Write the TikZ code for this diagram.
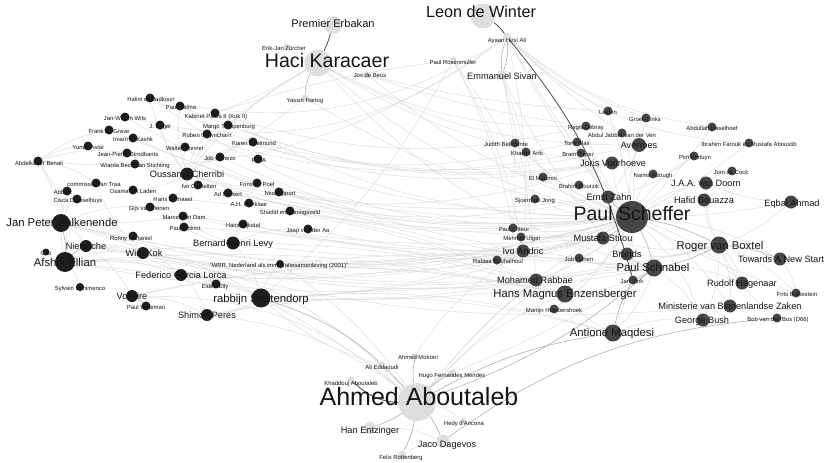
\documentclass[tikz,border=0pt]{standalone}
\usepackage{fontspec}
\setmainfont{Liberation Sans}
\usetikzlibrary{backgrounds}
\definecolor{ndark}{HTML}{1E1E1E}
\definecolor{nmid}{HTML}{454545}
\definecolor{nlight}{HTML}{DEDEDE}
\definecolor{txt}{HTML}{151515}
\definecolor{elight}{HTML}{D9D9D9}
\definecolor{emid}{HTML}{B0B0B0}
\definecolor{edark}{HTML}{4A4A4A}
\tikzset{
  dk/.style={circle, fill=ndark, inner sep=0pt, minimum size=#1}, dk/.default=9,
  dm/.style={circle, fill=nmid, inner sep=0pt, minimum size=#1}, dm/.default=9,
  lt/.style={circle, fill=nlight, inner sep=0pt, minimum size=#1}, lt/.default=7,
  lab/.style={text=txt, inner sep=0pt, text height=0.72em, text depth=0pt},
  tS/.style={lab, font=\fontsize{5.9}{6}\selectfont},
  tM/.style={lab, font=\fontsize{9.2}{10}\selectfont},
  tL/.style={lab, font=\fontsize{11.3}{12}\selectfont},
  ed/.style={draw=elight, line width=0.45pt, opacity=0.9},
  em/.style={draw=emid, line width=0.6pt},
  ek/.style={draw=edark, line width=0.8pt},
}
\begin{document}
\begin{tikzpicture}[x=1pt,y=-1pt]
\useasboundingbox (0,0) rectangle (827,463);
% ---------- light nodes
\node[lt=25] (lw) at (483,16) {};
\node[lt=18] (pe) at (333,25) {};
\node[lt=27] (hk) at (318,63) {};
\node[lt=38] (aa) at (417,402) {};
\node[lt] (ez) at (287,47) {};
\node[lt] (jb) at (367,75) {};
\node[lt] (yh) at (305,98) {};
\node[lt] (pr) at (453,60) {};
\node[lt=8] (ah) at (507,37) {};
\node[lt=10] (es) at (502,75) {};
\node[lt] (am) at (415,356) {};
\node[lt] (ae) at (382,365) {};
\node[lt=8] (hf) at (452,373) {};
\node[lt] (ka) at (351,380) {};
\node[lt=12] (he) at (370,428) {};
\node[lt=6] (hd) at (463,421) {};
\node[lt=13] (jd) at (443,441) {};
\node[lt=8] (fr) at (402,455) {};
% ---------- dark nodes, left
\node[dk] (hm) at (150,98) {};
\node[dk] (pk) at (180,106) {};
\node[dk] (kp) at (215,113) {};
\node[dk] (jw) at (125,117) {};
\node[dk] (je) at (160,125) {};
\node[dk] (mt) at (228,125) {};
\node[dk] (fg) at (109,130) {};
\node[dk] (rg) at (207,134) {};
\node[dk] (ik) at (133,138) {};
\node[dk] (kad) at (253,142) {};
\node[dk] (ya) at (88,146) {};
\node[dk] (wd) at (185,147) {};
\node[dk] (js) at (127,153) {};
\node[dk] (jc) at (220,157) {};
\node[dk] (pv) at (258,159) {};
\node[dk] (wb) at (135,164) {};
\node[dk] (ab) at (38,161) {};
\node[dk=13] (oc) at (187,174) {};
\node[dk] (io) at (198,185) {};
\node[dk] (fp) at (257,183) {};
\node[dk] (ct) at (96,183) {};
\node[dk] (am2) at (67,191) {};
\node[dk] (ol) at (133,190) {};
\node[dk] (amk) at (228,193) {};
\node[dk] (nr) at (279,192) {};
\node[dk] (hdm) at (173,198) {};
\node[dk] (ahk) at (249,203) {};
\node[dk] (cd) at (77,199) {};
\node[dk] (gd) at (150,207) {};
\node[dk] (sk) at (290,211) {};
\node[dk] (md) at (183,216) {};
\node[dk] (po) at (184,227) {};
\node[dk] (hdk) at (243,224) {};
\node[dk] (jva) at (308,229) {};
\node[dk=13] (bhl) at (233,243) {};
\node[dk=18] (jpb) at (61,223) {};
\node[dk] (rn) at (133,236) {};
\node[dk=12] (nz) at (86,246) {};
\node[dk=12] (wk) at (143,253) {};
\node[dk=7] (cdo) at (46,252) {};
\node[dk=20] (ael) at (65,262) {};
\node[dk=12] (fgl) at (181,275) {};
\node[dk=8] (wrr) at (280,264) {};
\node[dk] (ee) at (216,284) {};
\node[dk=8] (se) at (80,287) {};
\node[dk=19] (rs) at (261,298) {};
\node[dk=12] (vo) at (132,296) {};
\node[dk] (pw) at (146,306) {};
\node[dk=12] (sp) at (207,315) {};
% ---------- dark nodes, right
\node[dm] (le) at (608,111) {};
\node[dm] (gl) at (646,118) {};
\node[dm] (rd) at (586,126) {};
\node[dm] (ajv) at (622,133) {};
\node[dm] (ahs) at (712,127) {};
\node[dm=14] (av) at (639,145) {};
\node[dm] (ifa) at (749,143) {};
\node[dm] (jbf) at (515,143) {};
\node[dm] (tb) at (577,142) {};
\node[dm] (kar) at (526,152) {};
\node[dm] (bp) at (581,153) {};
\node[dm] (pf) at (694,156) {};
\node[dm=13] (jv) at (612,163) {};
\node[dm] (jdc) at (732,171) {};
\node[dm] (na) at (653,174) {};
\node[dm] (em) at (543,177) {};
\node[dm=13] (jaa) at (706,183) {};
\node[dm] (bb) at (579,185) {};
\node[dm=13] (ezh) at (608,197) {};
\node[dm] (sj) at (535,199) {};
\node[dm=13] (hb) at (704,200) {};
\node[dm=13] (eq) at (791,202) {};
\node[dm=32] (ps) at (632,217) {};
\node[dm] (pc) at (513,228) {};
\node[dm] (mu) at (521,237) {};
\node[dm=13] (ms) at (603,238) {};
\node[dm=13] (ia) at (523,251) {};
\node[dm] (rb) at (497,260) {};
\node[dm] (jco) at (579,258) {};
\node[dm=13] (br) at (627,254) {};
\node[dm=17] (rvb) at (719,245) {};
\node[dm=13] (tns) at (780,259) {};
\node[dm=17] (psn) at (654,268) {};
\node[dm] (jvk) at (633,280) {};
\node[dm=13] (mr) at (536,280) {};
\node[dm=13] (rh) at (742,283) {};
\node[dm=17] (hme) at (565,294) {};
\node[dm] (mh) at (554,309) {};
\node[dm] (fb) at (796,293) {};
\node[dm=13] (mbz) at (730,306) {};
\node[dm=13] (gb) at (703,320) {};
\node[dm] (bvb) at (777,318) {};
\node[dm=17] (am3) at (613,333) {};
% ---------- edges
\begin{pgfonlayer}{background}
\fill[white] (0,0) rectangle (827,463);
\foreach \a/\b/\c in {hk/ez/0, hk/jb/0, hk/kp/5, hk/mt/-5, hk/oc/-10, hk/ps/-14, hk/psn/-16, hk/rd/-14, hk/jv/-12, hk/av/-14,
 ah/hm/22, ah/ab/20, ah/jw/25, ah/ahs/-15, ah/gl/-10, ah/av/-5, ah/ifa/-20, ah/ps/-5, ah/ia/8, ah/ezh/-5, ah/le/-8,
 es/mr/5, es/pc/8, es/sj/5, es/ms/-5,
 pr/ia/10, pr/kp/-5, pr/sj/5, pr/pc/8, pr/rs/10,
 jb/ps/-10, jb/le/-5, jb/rd/-5, yh/oc/5, yh/ps/-10,
 oc/wd/0, oc/jc/0, oc/hdm/0, oc/io/0, oc/ol/0, oc/wb/0, oc/js/0, oc/kad/0, oc/rg/0, oc/mt/0, oc/ps/-14, oc/jv/-16, oc/ezh/-14, oc/hm/0, oc/pk/0, oc/je/0,
 ab/js/0, ab/ct/0, ab/ael/20, ab/jpb/10, ab/ya/0, ab/fg/0,
 jpb/nz/0, jpb/wk/0, jpb/cd/0, jpb/rn/0, jpb/ps/-14, jpb/rvb/-16, jpb/gd/0, jpb/md/-5, jpb/ms/-12, jpb/ia/-12,
 ael/cdo/0, ael/se/0, ael/fgl/0, ael/wk/0, ael/aa/25, ael/rs/12, ael/ps/-12, ael/mr/-8, ael/hme/8, ael/am2/0,
 nz/wk/0, nz/fgl/0, nz/vo/0, nz/bhl/-5, nz/ps/-12, nz/ms/-12,
 wk/fgl/0, wk/rs/0, wk/mbz/-10, wk/rvb/-12, wk/psn/-8, wk/ct/0,
 fgl/rs/0, fgl/ee/0, fgl/sp/0, fgl/hme/8, fgl/ms/-8,
 vo/sp/0, vo/aa/20, vo/hme/12, vo/psn/8,
 rs/sp/0, rs/ee/0, rs/wrr/0, rs/ps/-10, rs/am3/10, rs/psn/-6, rs/mr/-6, rs/ia/-8,
 bhl/hdk/0, bhl/po/0, bhl/md/0, bhl/rs/0, bhl/ms/-8, bhl/hme/8, bhl/jva/0,
 sp/hme/8, sp/aa/15, sp/am3/12,
 hm/ps/-20, hm/jv/-18, jw/ps/-18, fg/ezh/-15, ik/ps/-14, pk/av/-18, kp/ps/-14, kp/rd/-15, mt/jv/-14, rg/tb/-14, je/bp/-14,
 pv/ps/-8, kad/jv/-10, jc/jco/-8, amk/ps/-8, nr/ps/-6, sk/mr/6, jva/ia/-6, sk/ps/-8, fp/psn/-8, io/ms/-6,
 wrr/ps/-8, wrr/psn/6, wrr/aa/10, hdm/hme/8, po/mr/5, gd/ms/-8, md/ia/-6, hdk/jco/-6,
 ps/br/0, ps/jv/0, ps/na/0, ps/jaa/0, ps/hb/0, ps/bb/0, ps/em/0, ps/sj/0, ps/jco/0, ps/mr/0, ps/hme/0, ps/am3/0, ps/av/0, ps/tb/0, ps/rd/0, ps/pf/0, ps/ia/0, ps/mbz/0, ps/rh/0, ps/gb/0, ps/kar/0, ps/pc/0, ps/mu/0, ps/jbf/0, ps/eq/-5, ps/tns/0, ps/fb/-5, ps/rb/0, ps/mh/0,
 rvb/rh/0, rvb/mbz/0, rvb/hb/0, rvb/jaa/0, rvb/eq/-10, rvb/fb/0, rvb/gb/0, rvb/ms/0, rvb/br/0,
 jaa/jdc/0, jaa/eq/-10, tns/fb/0, pf/ezh/0, gl/ezh/0, ahs/ps/5, ifa/ps/5, ajv/ps/0, le/ps/5,
 psn/br/0, psn/am3/0, psn/hme/0, psn/ms/0, psn/jco/0, psn/gb/0, psn/rh/0,
 am3/hme/0, am3/gb/0, bvb/rvb/0,
 aa/ae/0, aa/hd/0, aa/ms/5, aa/mr/5, aa/ps/10, aa/rs/-5, aa/hme/0,
 he/jd/0, fr/jd/0, hf/psn/-5, am/ia/0, ae/rs/0}
  {\pgfmathsetmacro\bb{(\c==0)*12+\c}
   \draw[ed] (\a) to[bend left=\bb] (\b);}
\foreach \a/\b/\c in {hk/yh/-15, ah/es/-12, ah/es/12, vo/pw/8, jpb/ael/8, ael/nz/8, rs/aa/15, ps/ezh/8, ps/ms/8, ps/psn/8, ps/rvb/8, rvb/tns/8, rvb/psn/8, psn/jvk/8, am3/jvk/8, aa/am/8, aa/hf/8, aa/he/8, aa/jd/8, aa/fr/8, aa/psn/-10, am3/aa/-10, bvb/jd/-15}
  \draw[em] (\a) to[bend left=\c] (\b);
\foreach \a/\b/\c in {lw/ah/10, ah/jvk/12, aa/ka/20, hk/pe/-5}
  \draw[ek] (\a) to[bend left=\c] (\b);
\end{pgfonlayer}
% ---------- labels
\node[lab, font=\fontsize{16.2}{17}\selectfont] (lw-t) at (481,14) {Leon de Winter};
\node[lab, font=\fontsize{11.1}{12}\selectfont] (pe-t) at (333,24) {Premier Erbakan};
\node[lab, font=\fontsize{19.6}{20}\selectfont] (hk-t) at (327,64) {Haci Karacaer};
\node[lab, font=\fontsize{25}{26}\selectfont] (aa-t) at (419,402) {Ahmed Aboutaleb};
\node[lab, font=\fontsize{19.5}{20}\selectfont] (ps-t) at (632,217) {Paul Scheffer};
\node[tS] (ez-t) at (284,47) {Erik-Jan Zürcher};
\node[tS] (jb-t) at (370,74) {Jos de Beus};
\node[tS] (yh-t) at (305,99) {Yassin Hartog};
\node[tS] (pr-t) at (453,61) {Paul Rosenmuller};
\node[tS] (ah-t) at (507,39) {Ayaan Hirsi Ali};
\node[tM] (es-t) at (502,76) {Emmanuel Sivan};
\node[tS] (am-t) at (418,356) {Ahmed Moktari};
\node[tS] (ae-t) at (382,366) {Ali Eddaoudi};
\node[tS] (hf-t) at (452,374) {Hugo Fernandes Mendes};
\node[tS] (ka-t) at (351,382) {Khaddouj Aboutaleb};
\node[tM] (he-t) at (370,430) {Han Entzinger};
\node[tS] (hd-t) at (464,422) {Hedy d'Ancona};
\node[tM] (jd-t) at (447,444) {Jaco Dagevos};
\node[tS] (fr-t) at (401,456) {Felix Rottenberg};
% left
\node[tS] (hm-t) at (151,98) {Halim el Madkouri};
\node[tS] (pk-t) at (181,106) {Paul Kalma};
\node[tS] (kp-t) at (216,115) {Kabinet Paars II (Kok II)};
\node[tS] (jw-t) at (125,117) {Jan-Willem Wits};
\node[tS] (je-t) at (160,125) {J. Engel};
\node[tS] (mt-t) at (229,125) {Margo Trappenburg};
\node[tS] (fg-t) at (109,130) {Frank de Grave};
\node[tS] (rg-t) at (207,134) {Ruben Gowricharn};
\node[tS] (ik-t) at (133,138) {Imam El Kashk};
\node[tS] (kad-t) at (254,142) {Karen Adelmund};
\node[tS] (ya-t) at (88,146) {Yunus Astal};
\node[tS] (wd-t) at (185,147) {Walter Donner};
\node[tS] (js-t) at (128,153) {Jean-Pierre Strodbants};
\node[tS] (jc-t) at (220,157) {Job Cohezo};
\node[tS] (pv-t) at (259,159) {PvdA};
\node[tS] (wb-t) at (135,164) {Wiarda Beckman Stichting};
\node[tS] (ab-t) at (39,162) {Abdelkader Benali};
\node[tM] (oc-t) at (187,174) {Oussama Cherribi};
\node[tS] (io-t) at (199,185) {Ivo Opstelten};
\node[tS] (fp-t) at (257,183) {Fons de Poel};
\node[tS] (ct-t) at (94,183) {commissie Van Traa};
\node[tS] (am2-t) at (63,191) {Abbink};
\node[tS] (ol-t) at (133,190) {Osama bin Laden};
\node[tS] (amk-t) at (228,193) {Ad Melkert};
\node[tS] (nr-t) at (280,192) {Niodrapport};
\node[tS] (hdm-t) at (173,198) {Hans Demaast};
\node[tS] (ahk-t) at (249,203) {A.H. Henklaar};
\node[tS] (cd-t) at (78,199) {Cisca Dresselhuys};
\node[tS] (gd-t) at (149,207) {Gijs van Denen};
\node[tS] (sk-t) at (290,211) {Shadid en Koningsveld};
\node[tS] (md-t) at (184,216) {Marcel van Dam};
\node[tS] (po-t) at (185,227) {Paul Odinot};
\node[tS] (hdk-t) at (243,224) {Hans Dijkstal};
\node[tS] (jva-t) at (308,229) {Jaap van der Aa};
\node[tM] (bhl-t) at (233,243) {Bernard-Henri Levy};
\node[tL] (jpb-t) at (62,223) {Jan Peter Balkenende};
\node[tS] (rn-t) at (131,237) {Ronny Naftaniel};
\node[tM] (nz-t) at (86,246) {Nietzsche};
\node[tM] (wk-t) at (144,253) {Wim Kok};
\node[tS] (cdo-t) at (46,252) {Cdo};
\node[tL] (ael-t) at (65,263) {Afshin Ellian};
\node[tM] (fgl-t) at (181,275) {Federico Garcia Lorca};
\node[tS] (wrr-t) at (279,264) {"WRR, Nederland als immigratiesamenleving (2001)"};
\node[tS] (ee-t) at (215,285) {Eldert Elly};
\node[tS] (se-t) at (80,287) {Sylvain Ephimenco};
\node[tL] (rs-t) at (261,299) {rabbijn Soetendorp};
\node[tM] (vo-t) at (132,296) {Voltaire};
\node[tS] (pw-t) at (146,306) {Paul Witteman};
\node[tM] (sp-t) at (207,315) {Shimon Peres};
% right
\node[tS] (le-t) at (608,111) {Leiden};
\node[tS] (gl-t) at (645,118) {Groen Links};
\node[tS] (rd-t) at (586,126) {Regis Debray};
\node[tS] (ajv-t) at (622,134) {Abdul Jabbar van der Ven};
\node[tS] (ahs-t) at (712,127) {Abdullah Haselhoef};
\node[tM] (av-t) at (639,145) {Averroes};
\node[tS] (ifa-t) at (749,143) {Ibrahim Farouk en Mustafa Aboustib};
\node[tS] (jbf-t) at (506,143) {Judith Belinfante};
\node[tS] (tb-t) at (577,142) {Tony Blair};
\node[tS] (kar-t) at (527,152) {Khadija Arib};
\node[tS] (bp-t) at (578,153) {Bram Peper};
\node[tS] (pf-t) at (695,156) {Pim Fortuyn};
\node[tM] (jv-t) at (613,163) {Joris Voorhoeve};
\node[tS] (jdc-t) at (731,171) {Jom de Cock};
\node[tS] (na-t) at (653,174) {Naima Azough};
\node[tS] (em-t) at (543,177) {El Moumni};
\node[tM] (jaa-t) at (706,183) {J.A.A. van Doorn};
\node[tS] (bb-t) at (579,185) {Brahim Bourzik};
\node[tM] (ezh-t) at (609,197) {Ernst Zahn};
\node[tS] (sj-t) at (535,199) {Sjoerd de Jong};
\node[tM] (hb-t) at (704,200) {Hafid Bouazza};
\node[tM] (eq-t) at (792,203) {Eqbal Ahmad};
\node[tS] (pc-t) at (514,228) {Paul Cliteur};
\node[tS] (mu-t) at (522,237) {Mehmet Ulger};
\node[tM] (ms-t) at (603,238) {Mustafa Stitou};
\node[tM] (ia-t) at (523,251) {Ivo Andric};
\node[tS] (rb-t) at (498,260) {Rabiaa Bouhalhoul};
\node[tS] (jco-t) at (579,258) {Job Cohen};
\node[tM] (br-t) at (627,254) {Brands};
\node[tL] (rvb-t) at (720,246) {Roger van Boxtel};
\node[tM] (tns-t) at (781,259) {Towards A New Start};
\node[tL] (psn-t) at (653,268) {Paul Schnabel};
\node[tS] (jvk-t) at (632,280) {Jan Vink};
\node[tM] (mr-t) at (535,280) {Mohamed Rabbae};
\node[tM] (rh-t) at (742,283) {Rudolf Hagenaar};
\node[tL] (hme-t) at (565,294) {Hans Magnus Enzensberger};
\node[tS] (mh-t) at (554,309) {Martijn Humbershoek};
\node[tS] (fb-t) at (797,293) {Frits Bolkestein};
\node[tM] (mbz-t) at (730,306) {Ministerie van Binnenlandse Zaken};
\node[tM] (gb-t) at (702,320) {George Bush};
\node[tS] (bvb-t) at (778,318) {Bob van den Bos (D66)};
\node[tL] (am3-t) at (612,333) {Antione Maqdesi};
\end{tikzpicture}
\end{document}
